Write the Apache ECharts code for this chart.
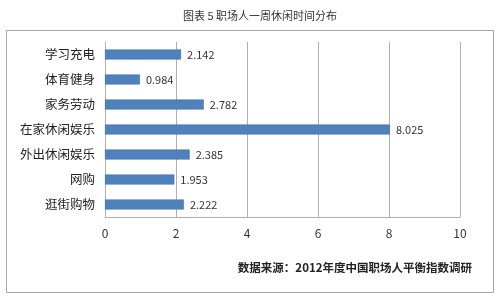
<!DOCTYPE html>
<html><head><meta charset="utf-8">
<script src="https://cdn.jsdelivr.net/npm/echarts@6/dist/echarts.min.js"></script>
<style>html,body{margin:0;padding:0;background:#fff}#c{width:500px;height:297px}</style>
</head><body><div id="c"></div>
<script>
const categories = ['学习充电','体育健身','家务劳动','在家休闲娱乐','外出休闲娱乐','网购','逛街购物'];
const values = [2.142, 0.984, 2.782, 8.025, 2.385, 1.953, 2.222];
const xTicks = [0, 2, 4, 6, 8, 10];
const titleText = '图表 5 职场人一周休闲时间分布';
const sourceText = '数据来源：2012年度中国职场人平衡指数调研';

const font = '"Noto Sans CJK SC", "Noto Sans", sans-serif';
const chart = echarts.init(document.getElementById('c'), null, {renderer:'canvas'});
chart.setOption({
  animation: false,
  backgroundColor: '#fff',
  title: {text: titleText, left: 255, top: 5, textAlign: 'center',
    textStyle: {fontFamily: font, fontSize: 11, fontWeight: 'normal', color: '#333'}},
  graphic: [
    {type: 'rect', shape: {x: 6.5, y: 30.5, width: 487, height: 262},
     style: {fill: 'none', stroke: '#a6a6a6', lineWidth: 1}, z: -1},
    {type: 'text', right: 28, top: 262,
     style: {text: sourceText, font: 'bold 11.5px ' + font, fill: '#222'}}
  ],
  grid: {left: 105, right: 40, top: 42, bottom: 80, containLabel: false},
  xAxis: {type: 'value', min: 0, max: 10, interval: 2,
    axisLine: {show: true, lineStyle: {color: '#b0b0b0'}}, axisTick: {show: false},
    splitLine: {show: true, lineStyle: {color: '#b0b0b0', width: 1}},
    axisLabel: {fontFamily: font, fontSize: 12, color: '#333', margin: 10,
      formatter: v => xTicks.includes(v) ? String(v) : ''}},
  yAxis: {type: 'category', data: categories, inverse: true,
    axisLine: {show: true, lineStyle: {color: '#b0b0b0'}}, axisTick: {show: false},
    axisLabel: {fontFamily: font, fontSize: 12.5, color: '#222', margin: 10}},
  series: [{type: 'bar', data: values, barWidth: 10,
    itemStyle: {color: '#4f81bd', borderColor: '#3a6aa5', borderWidth: 0.5},
    label: {show: true, position: 'right', distance: 6, fontFamily: font, fontSize: 11, color: '#333',
      formatter: p => String(p.value)}}]
});
</script></body></html>
